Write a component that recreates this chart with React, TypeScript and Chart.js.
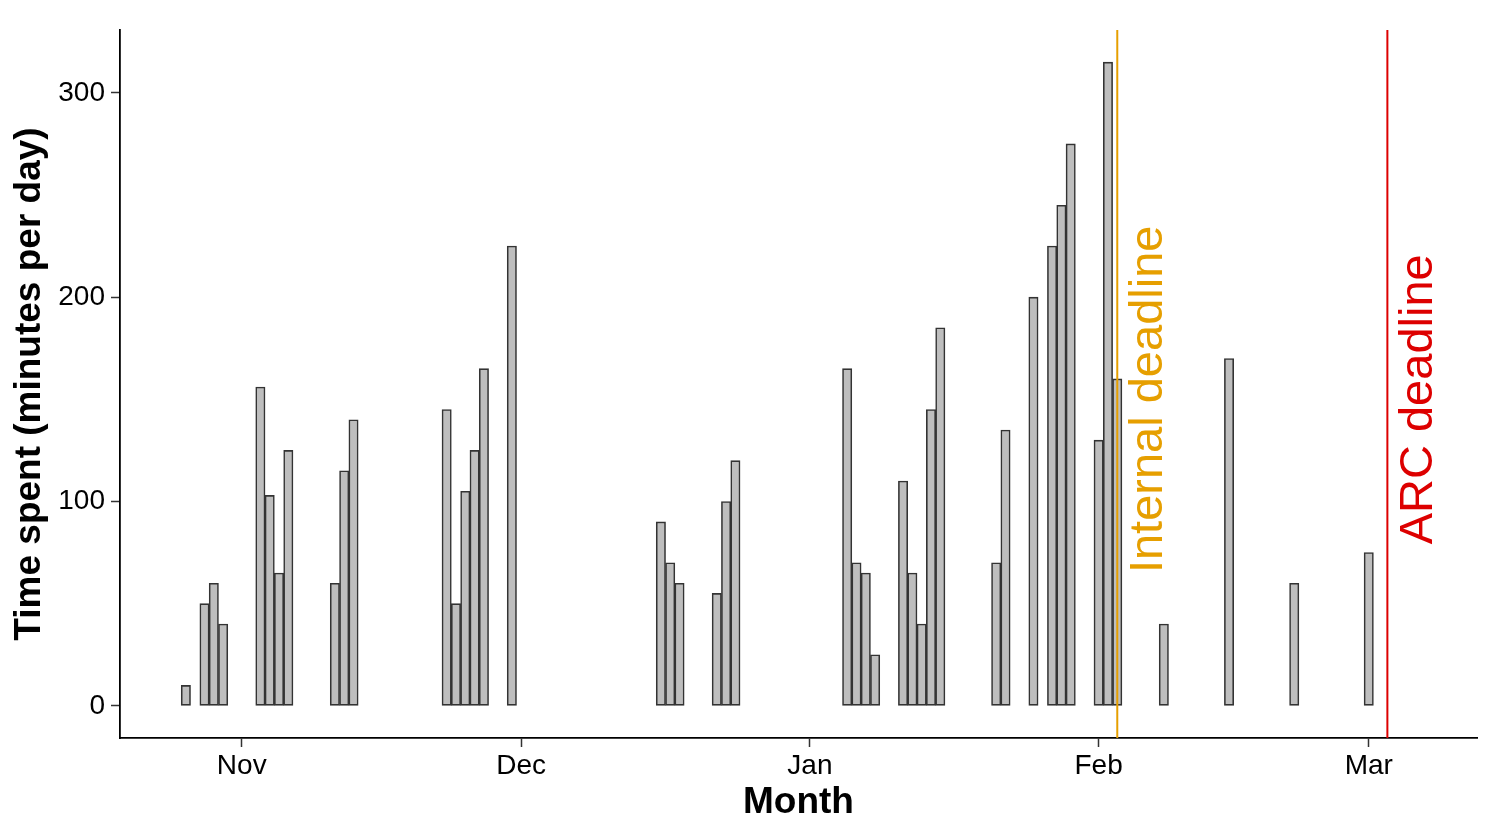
import React, { useEffect, useRef } from "react";
import { Chart, registerables } from "chart.js";

Chart.register(...registerables);

// ---- data ----
const dates = [
  "2015-10-26", "2015-10-28", "2015-10-29", "2015-10-30",
  "2015-11-03", "2015-11-04", "2015-11-05", "2015-11-06",
  "2015-11-11", "2015-11-12", "2015-11-13",
  "2015-11-23", "2015-11-24", "2015-11-25", "2015-11-26", "2015-11-27",
  "2015-11-30",
  "2015-12-16", "2015-12-17", "2015-12-18",
  "2015-12-22", "2015-12-23", "2015-12-24",
  "2016-01-05", "2016-01-06", "2016-01-07", "2016-01-08",
  "2016-01-11", "2016-01-12", "2016-01-13", "2016-01-14", "2016-01-15",
  "2016-01-21", "2016-01-22",
  "2016-01-25",
  "2016-01-27", "2016-01-28", "2016-01-29",
  "2016-02-01", "2016-02-02", "2016-02-03",
  "2016-02-08", "2016-02-15", "2016-02-22", "2016-03-01",
];
const minutes = [
  10, 50, 60, 40,
  156, 103, 65, 125,
  60, 115, 140,
  145, 50, 105, 125, 165,
  225,
  90, 70, 60,
  55, 100, 120,
  165, 70, 65, 25,
  110, 65, 40, 145, 185,
  70, 135,
  200,
  225, 245, 275,
  130, 315, 160,
  40, 170, 60, 75,
];

const monthTickDates = ["2015-11-01", "2015-12-01", "2016-01-01", "2016-02-01", "2016-03-01"];
const monthTickLabels = ["Nov", "Dec", "Jan", "Feb", "Mar"];
const yTicks = [0, 100, 200, 300];

const deadlineLabels = ["Internal deadline", "ARC deadline"];
const deadlineDates = ["2016-02-03", "2016-03-03"];
const deadlineLabelDates = ["2016-02-06", "2016-03-06"];
const deadlineLabelY = 150;
const deadlineColors = ["#E69F00", "#DD0000"];

const FONT = "'Liberation Sans', Arial, Helvetica, sans-serif";

const day = (s: string) => Date.UTC(+s.slice(0, 4), +s.slice(5, 7) - 1, +s.slice(8, 10)) / 86400000;

export default function App() {
  const canvasRef = useRef<HTMLCanvasElement | null>(null);

  useEffect(() => {
    const canvas = canvasRef.current;
    if (!canvas) return;

    const xLo = day(dates[0]) - 0.45;
    const xHi = day(deadlineLabelDates[deadlineLabelDates.length - 1]);
    const xPad = (xHi - xLo) * 0.05;
    const yHi = Math.max(...minutes);
    const yPad = yHi * 0.05;

    const deadlinePlugin = {
      id: "deadlines",
      afterDatasetsDraw(chart: any) {
        const { ctx, chartArea, scales } = chart;
        const x = scales.x;
        const y = scales.y;
        deadlineDates.forEach((d, i) => {
          const px = x.getPixelForValue(day(d));
          ctx.save();
          ctx.strokeStyle = deadlineColors[i];
          ctx.lineWidth = 2;
          ctx.beginPath();
          ctx.moveTo(px, chartArea.top);
          ctx.lineTo(px, chartArea.bottom);
          ctx.stroke();
          const tx = x.getPixelForValue(day(deadlineLabelDates[i]));
          const ty = y.getPixelForValue(deadlineLabelY);
          ctx.translate(tx + 4, ty);
          ctx.rotate(-Math.PI / 2);
          ctx.fillStyle = deadlineColors[i];
          ctx.font = `47px ${FONT}`;
          ctx.textAlign = "center";
          ctx.textBaseline = "middle";
          ctx.fillText(deadlineLabels[i], 0, 0);
          ctx.restore();
        });
      },
    };

    const chart = new Chart(canvas, {
      type: "bar",
      data: {
        datasets: [
          {
            data: dates.map((d, i) => ({ x: day(d), y: minutes[i] })),
            backgroundColor: "#BEBEBE",
            borderColor: "#333333",
            borderWidth: 1.6,
            borderSkipped: false,
            barPercentage: 1,
            categoryPercentage: 1,
          },
        ],
      },
      options: {
        animation: false,
        responsive: false,
        devicePixelRatio: 1,
        layout: { padding: { top: 30, right: 30, left: 0, bottom: 0 } },
        plugins: { legend: { display: false }, tooltip: { enabled: false } },
        scales: {
          x: {
            type: "linear",
            offset: false,
            min: xLo - xPad,
            max: xHi + xPad,
            afterBuildTicks: (s: any) => {
              s.ticks = monthTickDates.map((d) => ({ value: day(d) }));
            },
            afterFit: (s: any) => {
              s.height = 93;
            },
            ticks: {
              autoSkip: false,
              maxRotation: 0,
              padding: 2,
              color: "#000",
              font: { size: 28, family: FONT },
              callback: (_v: any, i: number) => monthTickLabels[i],
            },
            grid: {
              offset: false,
              drawOnChartArea: false,
              tickLength: 9,
              tickColor: "#333",
              tickWidth: 1.5,
            },
            border: { color: "#000", width: 1.8 },
            title: {
              display: true,
              text: "Month",
              color: "#000",
              font: { size: 37, weight: "bold", family: FONT },
              padding: { top: 0, bottom: 6 },
            },
          },
          y: {
            type: "linear",
            min: -yPad,
            max: yHi + yPad,
            afterBuildTicks: (s: any) => {
              s.ticks = yTicks.map((v) => ({ value: v }));
            },
            afterFit: (s: any) => {
              s.width = 120;
            },
            ticks: {
              padding: 6,
              color: "#000",
              font: { size: 28, family: FONT },
            },
            grid: {
              drawOnChartArea: false,
              tickLength: 9,
              tickColor: "#333",
              tickWidth: 1.5,
            },
            border: { color: "#000", width: 1.8 },
            title: {
              display: true,
              text: "Time spent (minutes per day)",
              color: "#000",
              font: { size: 37, weight: "bold", family: FONT },
              padding: { top: 8, bottom: 0 },
            },
          },
        },
      } as any,
      plugins: [deadlinePlugin],
    });

    return () => chart.destroy();
  }, []);

  return (
    <div style={{ position: "absolute", left: 0, top: 0, width: 1507, height: 831, background: "#fff" }}>
      <canvas ref={canvasRef} width={1507} height={831} style={{ display: "block" }} />
    </div>
  );
}
